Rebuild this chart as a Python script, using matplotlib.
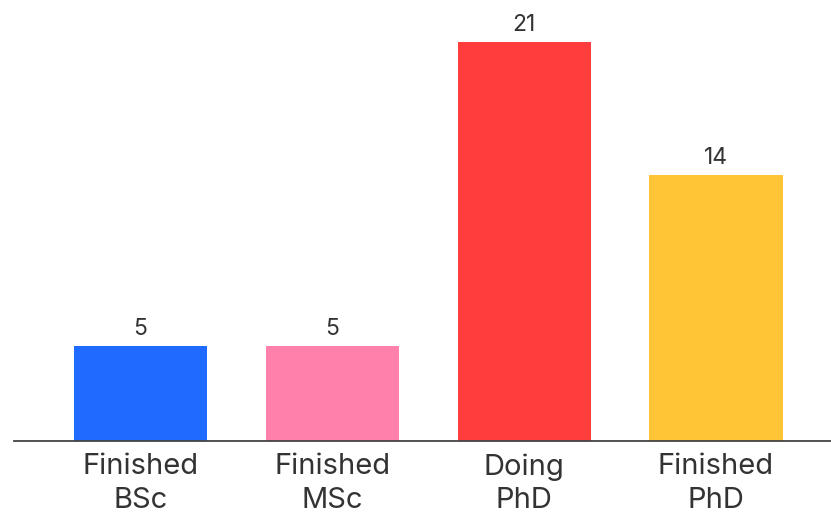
import matplotlib
matplotlib.use("Agg")
import matplotlib.pyplot as plt

categories = ["Finished\nBSc", "Finished\nMSc", "Doing\nPhD", "Finished\nPhD"]
values = [5, 5, 21, 14]
colors = ["#1f6bff", "#ff80ab", "#ff3d3d", "#ffc536"]

plt.rcParams['font.family'] = ['Inter', 'DejaVu Sans']

W, H = 831, 517
fig = plt.figure(figsize=(W/100, H/100), dpi=100)
ax = fig.add_axes([14/W, (H-441)/H, 1-14/W, 441/H])

x = list(range(len(categories)))
bars = ax.bar(x, values, width=0.695, color=colors, zorder=2)
for xi, v in zip(x, values):
    ax.annotate(str(v), (xi, v), xytext=(0, 4), textcoords="offset points",
                ha="center", va="bottom", fontsize=16.5, color="#333333")

ax.set_xlim(-0.66, 3.60)
ax.set_ylim(0, 441/19)
ax.set_xticks(x)
ax.set_xticklabels(categories, fontsize=21, color="#333333", linespacing=1.3)
ax.tick_params(axis="x", length=0, pad=9)
ax.set_yticks([])
for s in ["top", "right", "left"]:
    ax.spines[s].set_visible(False)
ax.spines["bottom"].set_color("#444444")
ax.spines["bottom"].set_linewidth(1.3)
ax.patch.set_alpha(0)

fig.savefig("out.png", dpi=100)
